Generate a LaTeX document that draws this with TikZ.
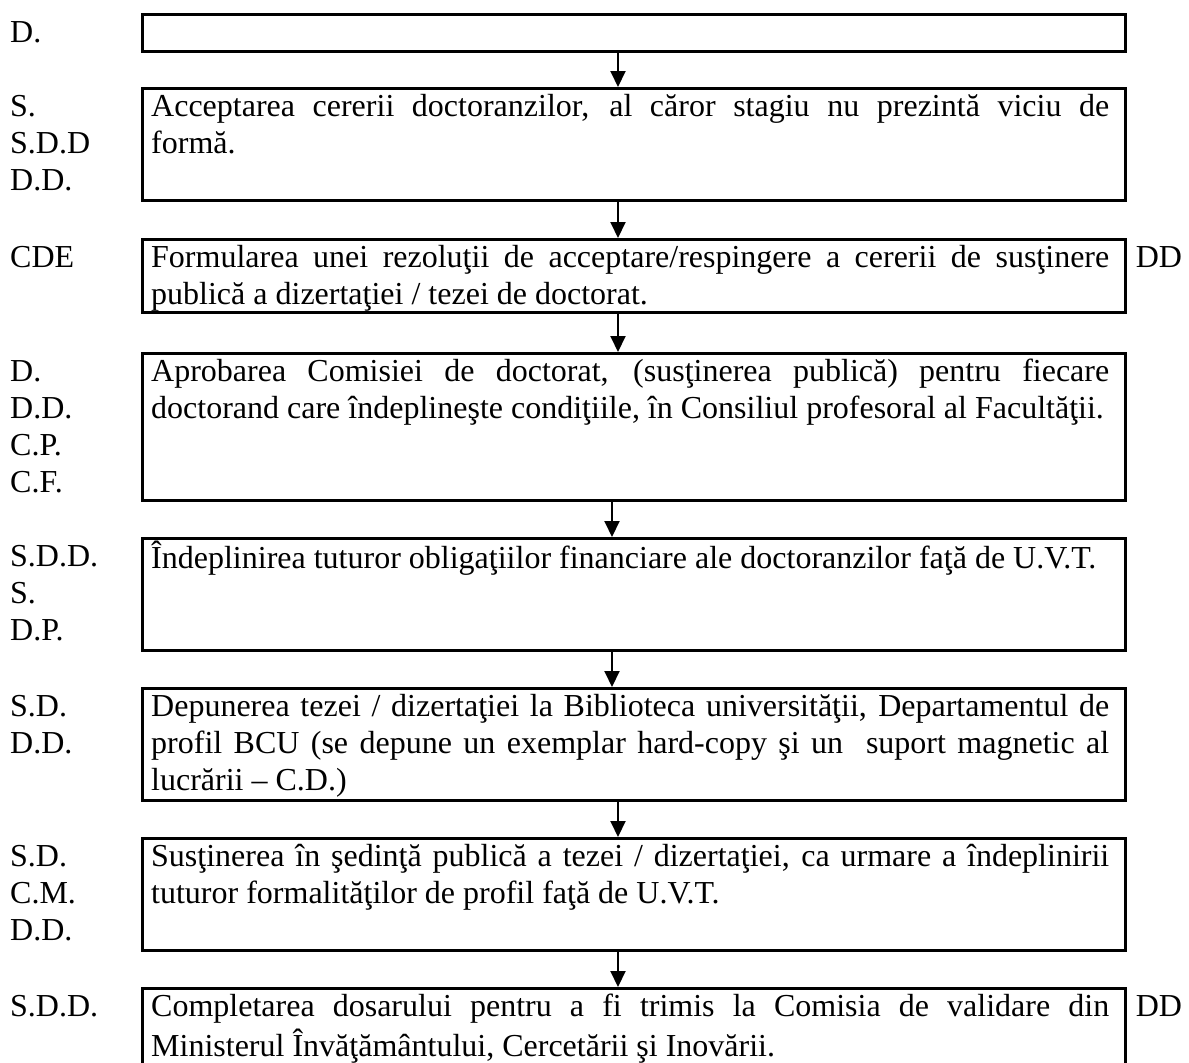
\documentclass[tikz,border=0pt]{standalone}
\usepackage{fontspec}
\setmainfont{Liberation Serif}
\usetikzlibrary{arrows.meta,positioning}
\def\tw{958pt}
\newcommand{\jline}[1]{\makebox[\tw][s]{\spaceskip=0pt\xspaceskip=0pt\strut #1}}
\newcommand{\lline}[1]{\makebox[\tw][l]{\spaceskip=0pt\xspaceskip=0pt\strut #1}}
\tikzset{
  stepbox/.style={draw, line width=2.6pt, minimum width=983pt, inner sep=0pt, anchor=north west},
  steptext/.style={anchor=north west, inner xsep=10pt, inner ysep=4pt, text width=\tw, align=left, font=\fontsize{32}{36.8}\selectfont},
  sidetext/.style={anchor=north west, inner xsep=0pt, inner ysep=4pt, align=left, font=\fontsize{32}{36.8}\selectfont},
  flow/.style={line width=2pt, -{Triangle[width=15pt,length=16pt]}}
}
\begin{document}
\begin{tikzpicture}[x=1pt,y=-1pt]
			%%%%% START %%%%%
			\useasboundingbox (0,0) rectangle (1189,1063);
			\clip (0,0) rectangle (1189,1063);
			
			\coordinate (lab) at (10,0);
			\coordinate (ax) at (618,0);
			\coordinate (axb) at (612,0);
			
			% boxes
			\node[stepbox, minimum height=37pt] (b1) at (141,13) {};
			\node[stepbox, minimum height=112pt] (b2) at (141,87) {};
			\node[stepbox, minimum height=73pt] (b3) at (141,238) {};
			\node[stepbox, minimum height=147pt] (b4) at (141,352) {};
			\node[stepbox, minimum height=112pt] (b5) at (141,537) {};
			\node[stepbox, minimum height=112pt] (b6) at (141,687) {};
			\node[stepbox, minimum height=112pt] (b7) at (141,837) {};
			\node[stepbox, minimum height=130pt] (b8) at (141,987) {};
			
			% texts in the boxes
			\node[steptext] (t2) at (b2.north west) {\jline{Acceptarea cererii doctoranzilor, al căror stagiu nu prezintă viciu de}\\\lline{formă.}};
			\node[steptext] (t3) at (b3.north west) {\jline{Formularea unei rezoluţii de acceptare/respingere a cererii de susţinere}\\\lline{publică a dizertaţiei / tezei de doctorat.}};
			\node[steptext] (t4) at (b4.north west) {\jline{Aprobarea Comisiei de doctorat, (susţinerea publică) pentru fiecare}\\\lline{doctorand care îndeplineşte condiţiile, în Consiliul profesoral al Facultăţii.}};
			\node[steptext] (t5) at (b5.north west) {\lline{Îndeplinirea tuturor obligaţiilor financiare ale doctoranzilor faţă de U.V.T.}};
			\node[steptext] (t6) at (b6.north west) {\jline{Depunerea tezei / dizertaţiei la Biblioteca universităţii, Departamentul de}\\\jline{profil BCU (se depune un exemplar hard-copy şi un\ \ suport magnetic al}\\\lline{lucrării – C.D.)}};
			\node[steptext] (t7) at (b7.north west) {\jline{Susţinerea în şedinţă publică a tezei / dizertaţiei, ca urmare a îndeplinirii}\\\lline{tuturor formalităţilor de profil faţă de U.V.T.}};
			\node[steptext] (t8) at (b8.north west) {\jline{Completarea dosarului pentru a fi trimis la Comisia de validare din}\\\lline{Ministerul Învăţământului, Cercetării şi Inovării.}};
			
			% left labels
			\node[sidetext] (l1) at (lab |- b1.north) {\strut D.};
			\node[sidetext] (l2) at (lab |- b2.north) {\strut S.\\S.D.D\\D.D.};
			\node[sidetext] (l3) at (lab |- b3.north) {\strut CDE};
			\node[sidetext] (l4) at (lab |- b4.north) {\strut D.\\D.D.\\C.P.\\C.F.};
			\node[sidetext] (l5) at (lab |- b5.north) {\strut S.D.D.\\S.\\D.P.};
			\node[sidetext] (l6) at (lab |- b6.north) {\strut S.D.\\D.D.};
			\node[sidetext] (l7) at (lab |- b7.north) {\strut S.D.\\C.M.\\D.D.};
			\node[sidetext] (l8) at (lab |- b8.north) {\strut S.D.D.};
			
			% right labels
			\node[sidetext, inner xsep=9pt] (r3) at (b3.north east) {\strut DD};
			\node[sidetext, inner xsep=9pt] (r8) at (b8.north east) {\strut DD};
			
			% arrows
			\draw[flow] (b1.south -| ax) -- (b2.north -| ax);
			\draw[flow] (b2.south -| ax) -- (b3.north -| ax);
			\draw[flow] (b3.south -| ax) -- (b4.north -| ax);
			\draw[flow] (b4.south -| axb) -- (b5.north -| axb);
			\draw[flow] (b5.south -| axb) -- (b6.north -| axb);
			\draw[flow] (b6.south -| ax) -- (b7.north -| ax);
			\draw[flow] (b7.south -| ax) -- (b8.north -| ax);
			
			%%%%% END %%%%%
\end{tikzpicture}
\end{document}
